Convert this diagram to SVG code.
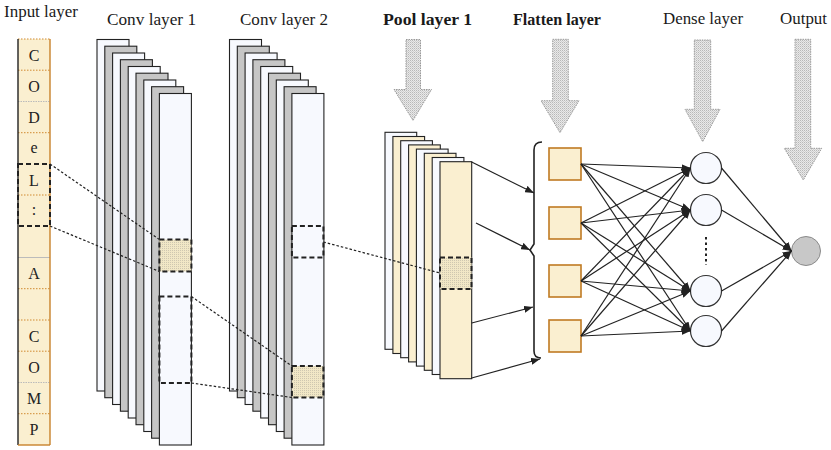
<svg xmlns="http://www.w3.org/2000/svg" width="831" height="450" viewBox="0 0 831 450">
<style>
.t{font-family:"Liberation Serif","Times New Roman",serif;font-size:16px;fill:#1a1a1a}
.b{font-weight:bold}
.lt{font-family:"Liberation Serif","Times New Roman",serif;font-size:16px;fill:#222;text-anchor:middle}
.w{fill:#f7f9fe;stroke:#222;stroke-width:1.1}
.g{fill:#c6c6c6;stroke:#222;stroke-width:1.1}
.c{fill:#faefd0;stroke:#222;stroke-width:1.1}
.sel{fill:none;stroke:#222;stroke-width:2;stroke-dasharray:5 3}
.self{fill:url(#dots);stroke:#222;stroke-width:2;stroke-dasharray:5 3}
.dl{fill:none;stroke:#222;stroke-width:1.2;stroke-dasharray:2.5 2}
.big{fill:url(#hatch);stroke:#9a9a9a;stroke-width:1;stroke-dasharray:1.5 1}
.ln{fill:none;stroke:#222;stroke-width:1.2;marker-end:url(#ah)}
.sq{fill:#faefd0;stroke:#c07a22;stroke-width:1.6}
.nd{fill:#f7f9fe;stroke:#333;stroke-width:1.2}
.div{stroke:#d08a30;stroke-width:1;stroke-dasharray:1.5 1.5}
.divg{stroke:#bbb;stroke-width:1;stroke-dasharray:1.5 1}
</style>
<defs>
<pattern id="hatch" width="2" height="2" patternUnits="userSpaceOnUse"><rect width="2" height="2" fill="#e9e9e9"/><rect width="1" height="1" fill="#b8b8b8"/><rect x="1" y="1" width="1" height="1" fill="#d0d0d0"/></pattern>
<pattern id="dots" width="2" height="2" patternUnits="userSpaceOnUse"><rect width="2" height="2" fill="#f1e7c6"/><rect width="1" height="1" fill="#cfc7b0"/></pattern>
<marker id="ah" markerUnits="userSpaceOnUse" markerWidth="9" markerHeight="7" refX="9" refY="3.5" orient="auto"><path d="M0,0 L9,3.5 L0,7 z" fill="#222"/></marker>
</defs>
<rect width="831" height="450" fill="#fff"/>

<g id="titles">
<text class="t" x="4" y="17" textLength="74" lengthAdjust="spacingAndGlyphs">Input layer</text>
<text class="t" x="107" y="25" textLength="89" lengthAdjust="spacingAndGlyphs">Conv layer 1</text>
<text class="t" x="240" y="25" textLength="88" lengthAdjust="spacingAndGlyphs">Conv layer 2</text>
<text class="t b" x="383" y="25" textLength="89" lengthAdjust="spacingAndGlyphs">Pool layer 1</text>
<text class="t b" x="513" y="25" textLength="88" lengthAdjust="spacingAndGlyphs">Flatten layer</text>
<text class="t" x="663" y="24" textLength="80" lengthAdjust="spacingAndGlyphs">Dense layer</text>
<text class="t" x="780" y="24" textLength="47" lengthAdjust="spacingAndGlyphs">Output</text>
</g>

<g id="input-layer">
<rect x="18" y="39" width="32" height="406" fill="#faefd0"/>
<line x1="18" y1="39" x2="50" y2="39" class="div"/>
<line x1="18" y1="70.2" x2="50" y2="70.2" class="div"/>
<line x1="18" y1="101.5" x2="50" y2="101.5" class="divg"/>
<line x1="18" y1="132.7" x2="50" y2="132.7" class="div"/>
<line x1="18" y1="195" x2="50" y2="195" class="div"/>
<line x1="18" y1="257.5" x2="50" y2="257.5" stroke="#bbb" stroke-width="1"/>
<line x1="18" y1="288.7" x2="50" y2="288.7" class="div"/>
<line x1="18" y1="320" x2="50" y2="320" class="div"/>
<line x1="18" y1="351.2" x2="50" y2="351.2" class="div"/>
<line x1="18" y1="382.5" x2="50" y2="382.5" class="divg"/>
<line x1="18" y1="413.7" x2="50" y2="413.7" class="div"/>
<line x1="18" y1="39" x2="18" y2="445" stroke="#222" stroke-width="1.4"/>
<line x1="50" y1="39" x2="50" y2="445" stroke="#c8822a" stroke-width="1.4"/>
<line x1="18" y1="445" x2="50" y2="445" stroke="#c8822a" stroke-width="1.4"/>
<text class="lt" x="34" y="61">C</text>
<text class="lt" x="34" y="92">O</text>
<text class="lt" x="34" y="123">D</text>
<text class="lt" x="34" y="153">e</text>
<text class="lt" x="34" y="186">L</text>
<text class="lt" x="34" y="215">:</text>
<text class="lt" x="34" y="279">A</text>
<text class="lt" x="34" y="342">C</text>
<text class="lt" x="34" y="373">O</text>
<text class="lt" x="34" y="404">M</text>
<text class="lt" x="34" y="435">P</text>
<rect class="sel" x="18" y="164" width="32" height="62"/>
</g>

<g id="conv-layer-1">
<rect class="w" x="97" y="39.5" width="32" height="351.5"/>
<rect class="g" x="104.8" y="46.2" width="32" height="351.5"/>
<rect class="w" x="112.6" y="53" width="32" height="351.5"/>
<rect class="g" x="120.4" y="59.7" width="32" height="351.5"/>
<rect class="w" x="128.2" y="66.5" width="32" height="351.5"/>
<rect class="g" x="136" y="73.2" width="32" height="351.5"/>
<rect class="w" x="143.8" y="80" width="32" height="351.5"/>
<rect class="g" x="151.6" y="86.7" width="32" height="351.5"/>
<rect class="w" x="159.4" y="93.5" width="32" height="351.5"/>
<rect class="self" x="159.4" y="239.5" width="32" height="32"/>
<rect class="sel" x="159.4" y="296.5" width="32" height="86.5"/>
</g>

<g id="conv-layer-2">
<rect class="w" x="229.5" y="39.5" width="32" height="351.5"/>
<rect class="g" x="237.3" y="46.2" width="32" height="351.5"/>
<rect class="w" x="245.1" y="53" width="32" height="351.5"/>
<rect class="g" x="252.9" y="59.7" width="32" height="351.5"/>
<rect class="w" x="260.7" y="66.5" width="32" height="351.5"/>
<rect class="g" x="268.5" y="73.2" width="32" height="351.5"/>
<rect class="w" x="276.3" y="80" width="32" height="351.5"/>
<rect class="g" x="284.1" y="86.7" width="32" height="351.5"/>
<rect class="w" x="291.9" y="93.5" width="32" height="351.5"/>
<rect class="sel" x="291.9" y="226" width="31.5" height="31.5"/>
<rect class="self" x="291.9" y="366" width="31.5" height="31.5"/>
</g>

<g id="pool-layer-1">
<polygon class="big" points="406,39.5 420.5,39.5 420.5,89.5 431.5,89.5 413,120.5 394,89.5 406,89.5"/>
<rect class="w" x="385" y="132.3" width="31.7" height="217"/>
<rect class="c" x="392.9" y="136.5" width="31.7" height="217"/>
<rect class="w" x="400.7" y="140.7" width="31.7" height="217"/>
<rect class="c" x="408.6" y="144.9" width="31.7" height="217"/>
<rect class="w" x="416.4" y="149.1" width="31.7" height="217"/>
<rect class="c" x="424.3" y="153.3" width="31.7" height="217"/>
<rect class="w" x="432.2" y="157.5" width="31.7" height="217"/>
<rect class="c" x="440" y="161.7" width="31.7" height="217"/>
<rect class="self" x="440" y="257.5" width="31.5" height="31.5"/>
</g>

<g id="flatten-layer">
<polygon class="big" points="552.7,39.3 568.3,39.3 568.3,100.7 579,100.7 560,132.7 541,100.7 552.7,100.7"/>
<path d="M542,142 Q534,142 534,150 L534,244 L530,250 L534,256 L534,351 Q534,358 541,358" fill="none" stroke="#222" stroke-width="1.6"/>
<rect class="sq" x="549" y="148" width="32" height="32"/>
<rect class="sq" x="549" y="207" width="32" height="32"/>
<rect class="sq" x="549" y="265" width="32" height="32"/>
<rect class="sq" x="549" y="320" width="32" height="32"/>
</g>

<g id="dense-layer">
<polygon class="big" points="694.3,40 710.7,40 710.7,109.3 720,109.3 702.7,141.7 685,109.3 694.3,109.3"/>
<circle class="nd" cx="706" cy="168" r="15.5"/>
<circle class="nd" cx="706" cy="210" r="15.5"/>
<circle class="nd" cx="706" cy="291" r="15.5"/>
<circle class="nd" cx="706" cy="331" r="15.5"/>
<line x1="706" y1="237" x2="706" y2="265" stroke="#222" stroke-width="2" stroke-dasharray="2.5 3"/>
</g>

<g id="output">
<polygon class="big" points="795,39.3 810.7,39.3 810.7,148.3 821.7,148.3 803.3,180 784.3,148.3 795,148.3"/>
<circle cx="806" cy="251" r="14.5" fill="#c8c8c8" stroke="#8a8a8a" stroke-width="1"/>
</g>

<g id="connectors">
<line class="dl" x1="50" y1="164" x2="159.4" y2="239.5"/>
<line class="dl" x1="50" y1="226" x2="159.4" y2="271.5"/>
<line class="dl" x1="191.4" y1="296.5" x2="291.9" y2="366"/>
<line class="dl" x1="191.4" y1="383" x2="291.9" y2="397.5"/>
<line class="dl" x1="323.4" y1="242" x2="440" y2="273"/>
<line class="ln" x1="471.7" y1="162" x2="534" y2="193"/>
<line class="ln" x1="476" y1="223" x2="530" y2="250"/>
<line class="ln" x1="471.7" y1="323" x2="533" y2="307"/>
<line class="ln" x1="471.7" y1="378" x2="540" y2="359"/>
<line class="ln" x1="581" y1="164" x2="690.5" y2="168"/>
<line class="ln" x1="581" y1="164" x2="690.5" y2="210"/>
<line class="ln" x1="581" y1="164" x2="690.5" y2="291"/>
<line class="ln" x1="581" y1="164" x2="690.5" y2="331"/>
<line class="ln" x1="581" y1="223" x2="690.5" y2="168"/>
<line class="ln" x1="581" y1="223" x2="690.5" y2="210"/>
<line class="ln" x1="581" y1="223" x2="690.5" y2="291"/>
<line class="ln" x1="581" y1="223" x2="690.5" y2="331"/>
<line class="ln" x1="581" y1="281" x2="690.5" y2="168"/>
<line class="ln" x1="581" y1="281" x2="690.5" y2="210"/>
<line class="ln" x1="581" y1="281" x2="690.5" y2="291"/>
<line class="ln" x1="581" y1="281" x2="690.5" y2="331"/>
<line class="ln" x1="581" y1="336" x2="690.5" y2="168"/>
<line class="ln" x1="581" y1="336" x2="690.5" y2="210"/>
<line class="ln" x1="581" y1="336" x2="690.5" y2="291"/>
<line class="ln" x1="581" y1="336" x2="690.5" y2="331"/>
<line class="ln" x1="721.5" y1="168" x2="791.5" y2="251"/>
<line class="ln" x1="721.5" y1="210" x2="791.5" y2="251"/>
<line class="ln" x1="721.5" y1="291" x2="791.5" y2="251"/>
<line class="ln" x1="721.5" y1="331" x2="791.5" y2="251"/>
</g>
</svg>
